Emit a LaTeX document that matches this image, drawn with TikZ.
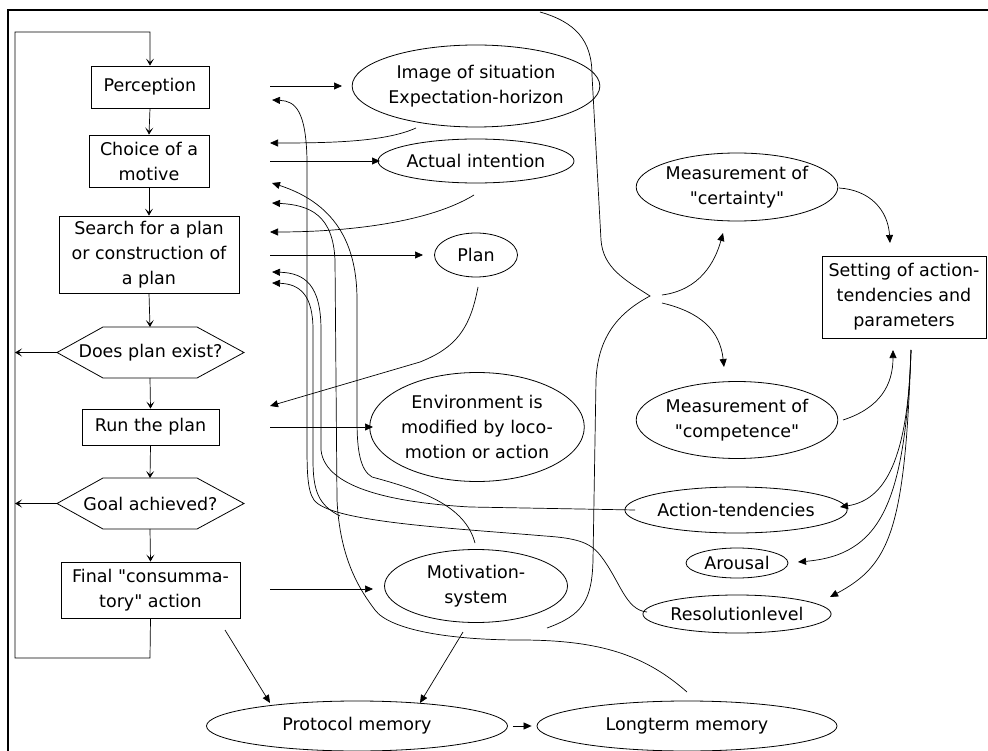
\documentclass[tikz,border=0pt]{standalone}
\usepackage{fontspec}
\setmainfont{DejaVu Sans}
\usetikzlibrary{arrows.meta,shapes.geometric}
\newcommand\qq{\XeTeXglyph\XeTeXcharglyph"22\relax}
\begin{document}
\begin{tikzpicture}[x=1pt,y=-1pt,
  every node/.style={font=\fontsize{17.5}{25}\selectfont, inner sep=0pt, align=center},
  box/.style={draw, line width=0.8pt},
  ell/.style={draw, ellipse, line width=0.8pt, inner sep=0pt},
  ar/.style={-{Triangle[length=8pt,width=7pt]}, line width=0.7pt},
  fl/.style={-{Stealth[length=7pt,width=8pt,inset=3.5pt]}, line width=0.7pt},
  ln/.style={line width=0.7pt}]
\useasboundingbox (0,0) rectangle (988,751);
% frame
\draw[line width=2pt] (8,751) -- (8,10) -- (988,10);

% left column
\node[box, minimum width=118pt, minimum height=42pt] (per) at (150,87) {Perception};
\node[box, minimum width=120pt, minimum height=52pt] (cho) at (149,161) {Choice of a\\motive};
\node[box, minimum width=180pt, minimum height=77pt] (sea) at (149,254.5) {Search for a plan\\or construction of\\a plan};
\draw[line width=0.8pt] (57,352.5) coordinate (dpeW) -- (103,327) -- (150,327) coordinate (dpeN) -- (197,327) -- (244,352.5) -- (197,378) -- (150,378) coordinate (dpeS) -- (103,378) -- cycle;
\node (dpe) at (150.5,352.5) {Does plan exist?};
\node[box, minimum width=137pt, minimum height=36pt] (run) at (150.5,427) {Run the plan};
\draw[line width=0.8pt] (57,503.5) coordinate (gaaW) -- (103,478) -- (150,478) coordinate (gaaN) -- (197,478) -- (244,503.5) -- (197,529) -- (150,529) coordinate (gaaS) -- (103,529) -- cycle;
\node (gaa) at (150.5,503.5) {Goal achieved?};
\node[box, minimum width=179pt, minimum height=56pt] (fin) at (150.5,590) {Final \qq consumma-\\tory\qq{} action};

% flow
\coordinate (lt) at (150,32);
\draw[fl] (fin.south) -- (150,658) -- (15,658) -- (15,32) -- (lt) -- (per.north);
\draw[fl] (per.south) -- (cho.north);
\draw[fl] (cho.south) -- (sea.north);
\draw[fl] (sea.south) -- (dpeN);
\draw[fl] (dpeS) -- (run.north);
\draw[fl] (run.south) -- (gaaN);
\draw[fl] (gaaS) -- (fin.north);
\coordinate (dpeL) at (15,352.5);
\coordinate (gaaL) at (15,503.5);
\draw[fl] (dpeW) -- (dpeL);
\draw[fl] (gaaW) -- (gaaL);

% middle ellipses
\node[ell, minimum width=217pt, minimum height=82pt] (img) at (476,86) {Image of situation\\Expectation-horizon};
\node[ell, minimum width=173pt, minimum height=44pt] (act) at (476,161) {Actual intention};
\node[ell, minimum width=83pt, minimum height=44pt] (pla) at (476,255) {Plan};
\node[ell, minimum width=195pt, minimum height=109pt] (env) at (477,427) {Environment is\\modified by loco-\\motion or action};
\node[ell, minimum width=183pt, minimum height=73pt] (mot) at (476,586) {Motivation-\\system};
\node[ell, minimum width=301pt, minimum height=50pt] (pro) at (357,726) {Protocol memory};
\node[ell, minimum width=300pt, minimum height=50pt] (lon) at (687,726) {Longterm memory};

% right ellipses
\node[ell, minimum width=189pt, minimum height=68pt] (cer) at (737,187) {Measurement of\\\qq certainty\qq};
\node[ell, minimum width=189pt, minimum height=77pt] (com) at (737,420) {Measurement of\\\qq competence\qq};
\node[box, minimum width=164pt, minimum height=82pt] (set) at (904,297) {Setting of action-\\tendencies and\\parameters};
\node[ell, minimum width=186pt, minimum height=46pt] (atd) at (736,510) {Action-tendencies};
\node[ell, minimum width=102pt, minimum height=30pt] (aro) at (737,563) {Arousal};
\node[ell, minimum width=161pt, minimum height=38pt] (res) at (737,614) {Resolutionlevel};

% straight arrows from left column
\coordinate (a1s) at (270,86);   \coordinate (a1e) at (342,86);
\coordinate (a3s) at (270,161);  \coordinate (a3e) at (380,161);
\coordinate (a5s) at (270,255);  \coordinate (a5e) at (423,255);
\coordinate (a7s) at (270,427);  \coordinate (a7e) at (373,427);
\coordinate (a8s) at (270,589);  \coordinate (a8e) at (373,589);
\draw[ar] (a1s) -- (a1e);
\draw[ar] (a3s) -- (a3e);
\draw[ar] (a5s) -- (a5e);
\draw[ar] (a7s) -- (a7e);
\draw[ar] (a8s) -- (a8e);

% arrows back to left column
\coordinate (b1s) at (416,128); \coordinate (b1e) at (270,143);
\draw[ar] (b1s) .. controls (385,142) and (330,143) .. (b1e);
\coordinate (b2s) at (474,195); \coordinate (b2e) at (270,232);
\draw[ar] (b2s) .. controls (430,222) and (350,232) .. (b2e);
\coordinate (b3s) at (478,287); \coordinate (b3e) at (270,406);
\draw[ar] (b3s) .. controls (470,330) and (455,348) .. (420,362) -- (b3e);

% to memories
\coordinate (m1s) at (225,630); \coordinate (m1e) at (270,703);
\draw[ar] (m1s) -- (m1e);
\coordinate (m2s) at (463,632); \coordinate (m2e) at (420,703);
\draw[ar] (m2s) -- (m2e);
\draw[ar, shorten <=5pt, shorten >=5pt] (pro.east) -- (lon.west);

% long feedback curves
\coordinate (r1) at (647,612); \coordinate (t1) at (272,100);
\draw[ln, -{Triangle[length=8pt,width=7pt]}] (r1) .. controls (625,610) and (620,580) .. (600,555)
  .. controls (590,542) and (575,538) .. (545,536)
  .. controls (450,528) and (330,522) .. (314,500)
  .. controls (307,490) and (307,470) .. (307,440) -- (307,160)
  .. controls (306,110) and (295,101) .. (t1);
\coordinate (t5) at (272,283);
\draw[ln, -{Triangle[length=8pt,width=7pt]}] (340,516) .. controls (318,505) and (313,490) .. (313,460) -- (313,330) .. controls (313,295) and (300,284) .. (t5);
\coordinate (r2) at (635,510); \coordinate (t4) at (272,272);
\draw[ln, -{Triangle[length=8pt,width=7pt]}] (r2) -- (470,507) .. controls (400,503) and (325,490) .. (321,450) -- (321,330)
  .. controls (321,285) and (305,273) .. (t4);
\coordinate (r3) at (687,692); \coordinate (t3) at (272,203);
\draw[ln, -{Triangle[length=8pt,width=7pt]}] (r3) .. controls (645,655) and (600,640) .. (520,640)
  .. controls (450,640) and (390,630) .. (375,610)
  .. controls (360,590) and (340,560) .. (337,500) -- (335,260)
  .. controls (333,215) and (310,205) .. (t3);
\coordinate (r4) at (475,543); \coordinate (t2) at (272,183);
\draw[ln, -{Triangle[length=8pt,width=7pt]}] (r4) .. controls (465,505) and (420,490) .. (372,477)
  .. controls (360,470) and (357,450) .. (357,420) -- (357,300)
  .. controls (357,250) and (340,205) .. (t2);

% brace
\coordinate (bt) at (650,296);
\draw[ln] (540,12) .. controls (575,22) and (592,40) .. (592,75) -- (601,240)
  .. controls (603,268) and (625,280) .. (bt)
  .. controls (620,312) and (598,335) .. (596,380) -- (593,560)
  .. controls (592,600) and (583,615) .. (547,628);
\coordinate (c1s) at (662,295); \coordinate (c1e) at (723,233);
\draw[ar] (c1s) .. controls (700,290) and (715,262) .. (c1e);
\coordinate (c2s) at (662,303); \coordinate (c2e) at (724,367);
\draw[ar] (c2s) .. controls (700,312) and (720,330) .. (c2e);

% to/from setting
\coordinate (s1s) at (839,188); \coordinate (s1e) at (890,243);
\draw[ar] (s1s) .. controls (870,190) and (888,210) .. (s1e);
\coordinate (s2s) at (843,420); \coordinate (s2e) at (893,350);
\draw[ar] (s2s) .. controls (880,408) and (893,385) .. (s2e);
\coordinate (so) at (911,350);
\coordinate (e1) at (840,507); \coordinate (e2) at (798,562); \coordinate (e3) at (830,597);
\draw[ar] (so) .. controls (908,460) and (885,500) .. (e1);
\draw[ar] (so) .. controls (905,505) and (880,555) .. (e2);
\draw[ar] (so) .. controls (905,530) and (890,565) .. (e3);
\end{tikzpicture}
\end{document}
